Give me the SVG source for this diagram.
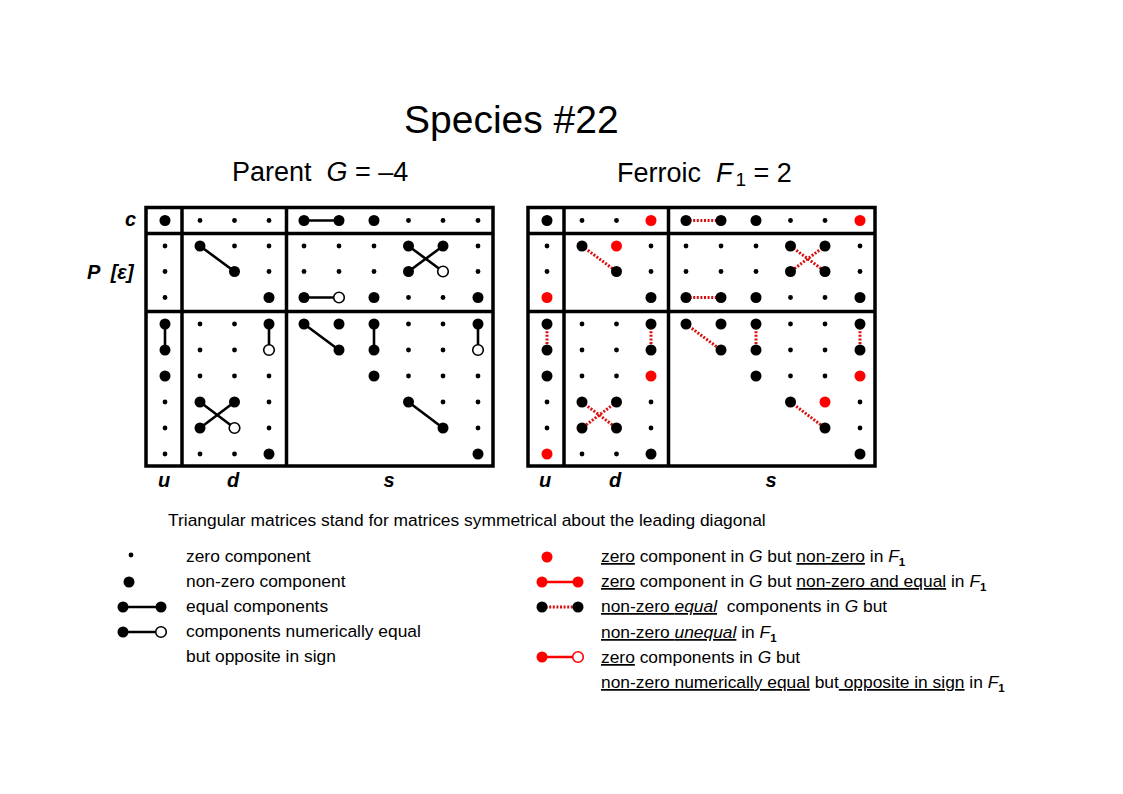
<svg xmlns="http://www.w3.org/2000/svg" width="1123" height="794" viewBox="0 0 1123 794">
<style>
text{font-family:"Liberation Sans",Arial,sans-serif;fill:#000}
.t1{font-size:39px}
.t2{font-size:27px}
.lab{font-size:20px;font-weight:bold;font-style:italic}
.cap{font-size:17.4px}
.lg{font-size:17.4px}
.it{font-style:italic}
.u{text-decoration:underline}
.sub{font-size:11.5px;font-weight:bold}
.frame{fill:none;stroke:#000;stroke-width:3.5}
.div{stroke:#000;stroke-width:3.5}
.ln{stroke:#000;stroke-width:2.6;fill:none}
.rl{stroke:#ff0000;stroke-width:2.6;fill:none}
.rd{stroke:#d81010;stroke-width:3;stroke-dasharray:2 1.6;fill:none}
</style>
<defs>
<circle id="S" r="2.4" fill="#000"/>
<circle id="B" r="5.5" fill="#000"/>
<circle id="R" r="5.5" fill="#ff0000"/>
<circle id="O" r="5.3" fill="#fff" stroke="#000" stroke-width="1.6"/>
<circle id="RO" r="5.3" fill="#fff" stroke="#ff0000" stroke-width="1.6"/>
</defs>
<rect width="1123" height="794" fill="#fff"/>

<g id="titles">
<text class="t1" x="404" y="133">Species #22</text>
<text class="t2" x="232" y="181" xml:space="preserve">Parent  <tspan class="it">G</tspan> = –4</text>
<text class="t2" x="617" y="182" xml:space="preserve">Ferroic  <tspan class="it">F</tspan><tspan font-size="19" dx="3" dy="4">1</tspan><tspan dy="-4"> = 2</tspan></text>
<text class="lab" x="125" y="226">c</text>
<text class="lab" x="87" y="279" xml:space="preserve">P  [ε]</text>
<text class="lab" x="164" y="487" text-anchor="middle">u</text>
<text class="lab" x="233" y="487" text-anchor="middle">d</text>
<text class="lab" x="389" y="487" text-anchor="middle">s</text>
<text class="lab" x="545" y="487" text-anchor="middle">u</text>
<text class="lab" x="615" y="487" text-anchor="middle">d</text>
<text class="lab" x="771" y="487" text-anchor="middle">s</text>
<text class="cap" x="168" y="526">Triangular matrices stand for matrices symmetrical about the leading diagonal</text>
</g>

<g id="parent-matrix">
<rect class="frame" x="146" y="207.5" width="347" height="258.5"/>
<line class="div" x1="182" y1="207.5" x2="182" y2="466"/>
<line class="div" x1="286.5" y1="207.5" x2="286.5" y2="466"/>
<line class="div" x1="146" y1="233.5" x2="493" y2="233.5"/>
<line class="div" x1="146" y1="311.5" x2="493" y2="311.5"/>
</g>
<g id="ferroic-matrix">
<rect class="frame" x="528" y="207.5" width="347" height="258.5"/>
<line class="div" x1="564" y1="207.5" x2="564" y2="466"/>
<line class="div" x1="668.5" y1="207.5" x2="668.5" y2="466"/>
<line class="div" x1="528" y1="233.5" x2="875" y2="233.5"/>
<line class="div" x1="528" y1="311.5" x2="875" y2="311.5"/>
</g>

<g id="connectors">
<line class="ln" x1="304" y1="220.5" x2="339" y2="220.5"/>
<line class="ln" x1="200" y1="246" x2="234.5" y2="271.5"/>
<line class="ln" x1="408.5" y1="246" x2="443" y2="271.5"/>
<line class="ln" x1="443" y1="246" x2="408.5" y2="271.5"/>
<line class="ln" x1="304" y1="297.5" x2="339" y2="297.5"/>
<line class="ln" x1="165" y1="324" x2="165" y2="350"/>
<line class="ln" x1="269" y1="324" x2="269" y2="350"/>
<line class="ln" x1="200" y1="402" x2="234.5" y2="428"/>
<line class="ln" x1="234.5" y1="402" x2="200" y2="428"/>
<line class="ln" x1="304" y1="324" x2="339" y2="350"/>
<line class="ln" x1="374" y1="324" x2="374" y2="350"/>
<line class="ln" x1="478" y1="324" x2="478" y2="350"/>
<line class="ln" x1="408.5" y1="402" x2="443" y2="428"/>

<line class="rd" x1="686" y1="220.5" x2="721" y2="220.5"/>
<line class="rd" x1="582" y1="246" x2="616.5" y2="271.5"/>
<line class="rd" x1="790.5" y1="246" x2="825" y2="271.5"/>
<line class="rd" x1="825" y1="246" x2="790.5" y2="271.5"/>
<line class="rd" x1="686" y1="297.5" x2="721" y2="297.5"/>
<line class="rd" x1="547" y1="324" x2="547" y2="350"/>
<line class="rd" x1="651" y1="324" x2="651" y2="350"/>
<line class="rd" x1="582" y1="402" x2="616.5" y2="428"/>
<line class="rd" x1="616.5" y1="402" x2="582" y2="428"/>
<line class="rd" x1="686" y1="324" x2="721" y2="350"/>
<line class="rd" x1="756" y1="324" x2="756" y2="350"/>
<line class="rd" x1="860" y1="324" x2="860" y2="350"/>
<line class="rd" x1="790.5" y1="402" x2="825" y2="428"/>

<line class="ln" x1="123" y1="607" x2="161" y2="607"/>
<line class="ln" x1="123" y1="632" x2="161" y2="632"/>
<line class="rl" x1="542" y1="582" x2="578" y2="582"/>
<line class="rd" x1="542" y1="607" x2="578" y2="607"/>
<line class="rl" x1="542" y1="657" x2="578" y2="657"/>
</g>

<g id="parent-dots">
<use href="#B" x="165" y="220.5"/><use href="#S" x="200" y="220.5"/><use href="#S" x="234.5" y="220.5"/><use href="#S" x="269" y="220.5"/><use href="#B" x="304" y="220.5"/><use href="#B" x="339" y="220.5"/><use href="#B" x="374" y="220.5"/><use href="#S" x="408.5" y="220.5"/><use href="#S" x="443" y="220.5"/><use href="#S" x="478" y="220.5"/>
<use href="#S" x="165" y="246"/><use href="#B" x="200" y="246"/><use href="#S" x="234.5" y="246"/><use href="#S" x="269" y="246"/><use href="#S" x="304" y="246"/><use href="#S" x="339" y="246"/><use href="#S" x="374" y="246"/><use href="#B" x="408.5" y="246"/><use href="#B" x="443" y="246"/><use href="#S" x="478" y="246"/>
<use href="#S" x="165" y="271.5"/><use href="#B" x="234.5" y="271.5"/><use href="#S" x="269" y="271.5"/><use href="#S" x="304" y="271.5"/><use href="#S" x="339" y="271.5"/><use href="#S" x="374" y="271.5"/><use href="#B" x="408.5" y="271.5"/><use href="#O" x="443" y="271.5"/><use href="#S" x="478" y="271.5"/>
<use href="#S" x="165" y="297.5"/><use href="#B" x="269" y="297.5"/><use href="#B" x="304" y="297.5"/><use href="#O" x="339" y="297.5"/><use href="#B" x="374" y="297.5"/><use href="#S" x="408.5" y="297.5"/><use href="#S" x="443" y="297.5"/><use href="#B" x="478" y="297.5"/>
<use href="#B" x="165" y="324"/><use href="#S" x="200" y="324"/><use href="#S" x="234.5" y="324"/><use href="#B" x="269" y="324"/><use href="#B" x="304" y="324"/><use href="#B" x="339" y="324"/><use href="#B" x="374" y="324"/><use href="#S" x="408.5" y="324"/><use href="#S" x="443" y="324"/><use href="#B" x="478" y="324"/>
<use href="#B" x="165" y="350"/><use href="#S" x="200" y="350"/><use href="#S" x="234.5" y="350"/><use href="#O" x="269" y="350"/><use href="#B" x="339" y="350"/><use href="#B" x="374" y="350"/><use href="#S" x="408.5" y="350"/><use href="#S" x="443" y="350"/><use href="#O" x="478" y="350"/>
<use href="#B" x="165" y="376"/><use href="#S" x="200" y="376"/><use href="#S" x="234.5" y="376"/><use href="#S" x="269" y="376"/><use href="#B" x="374" y="376"/><use href="#S" x="408.5" y="376"/><use href="#S" x="443" y="376"/><use href="#S" x="478" y="376"/>
<use href="#S" x="165" y="402"/><use href="#B" x="200" y="402"/><use href="#B" x="234.5" y="402"/><use href="#S" x="269" y="402"/><use href="#B" x="408.5" y="402"/><use href="#S" x="443" y="402"/><use href="#S" x="478" y="402"/>
<use href="#S" x="165" y="428"/><use href="#B" x="200" y="428"/><use href="#O" x="234.5" y="428"/><use href="#S" x="269" y="428"/><use href="#B" x="443" y="428"/><use href="#S" x="478" y="428"/>
<use href="#S" x="165" y="454"/><use href="#S" x="200" y="454"/><use href="#S" x="234.5" y="454"/><use href="#B" x="269" y="454"/><use href="#B" x="478" y="454"/>
</g>

<g id="ferroic-dots">
<use href="#B" x="547" y="220.5"/><use href="#S" x="582" y="220.5"/><use href="#S" x="616.5" y="220.5"/><use href="#R" x="651" y="220.5"/><use href="#B" x="686" y="220.5"/><use href="#B" x="721" y="220.5"/><use href="#B" x="756" y="220.5"/><use href="#S" x="790.5" y="220.5"/><use href="#S" x="825" y="220.5"/><use href="#R" x="860" y="220.5"/>
<use href="#S" x="547" y="246"/><use href="#B" x="582" y="246"/><use href="#R" x="616.5" y="246"/><use href="#S" x="651" y="246"/><use href="#S" x="686" y="246"/><use href="#S" x="721" y="246"/><use href="#S" x="756" y="246"/><use href="#B" x="790.5" y="246"/><use href="#B" x="825" y="246"/><use href="#S" x="860" y="246"/>
<use href="#S" x="547" y="271.5"/><use href="#B" x="616.5" y="271.5"/><use href="#S" x="651" y="271.5"/><use href="#S" x="686" y="271.5"/><use href="#S" x="721" y="271.5"/><use href="#S" x="756" y="271.5"/><use href="#B" x="790.5" y="271.5"/><use href="#B" x="825" y="271.5"/><use href="#S" x="860" y="271.5"/>
<use href="#R" x="547" y="297.5"/><use href="#B" x="651" y="297.5"/><use href="#B" x="686" y="297.5"/><use href="#B" x="721" y="297.5"/><use href="#B" x="756" y="297.5"/><use href="#S" x="790.5" y="297.5"/><use href="#S" x="825" y="297.5"/><use href="#B" x="860" y="297.5"/>
<use href="#B" x="547" y="324"/><use href="#S" x="582" y="324"/><use href="#S" x="616.5" y="324"/><use href="#B" x="651" y="324"/><use href="#B" x="686" y="324"/><use href="#B" x="721" y="324"/><use href="#B" x="756" y="324"/><use href="#S" x="790.5" y="324"/><use href="#S" x="825" y="324"/><use href="#B" x="860" y="324"/>
<use href="#B" x="547" y="350"/><use href="#S" x="582" y="350"/><use href="#S" x="616.5" y="350"/><use href="#B" x="651" y="350"/><use href="#B" x="721" y="350"/><use href="#B" x="756" y="350"/><use href="#S" x="790.5" y="350"/><use href="#S" x="825" y="350"/><use href="#B" x="860" y="350"/>
<use href="#B" x="547" y="376"/><use href="#S" x="582" y="376"/><use href="#S" x="616.5" y="376"/><use href="#R" x="651" y="376"/><use href="#B" x="756" y="376"/><use href="#S" x="790.5" y="376"/><use href="#S" x="825" y="376"/><use href="#R" x="860" y="376"/>
<use href="#S" x="547" y="402"/><use href="#B" x="582" y="402"/><use href="#B" x="616.5" y="402"/><use href="#S" x="651" y="402"/><use href="#B" x="790.5" y="402"/><use href="#R" x="825" y="402"/><use href="#S" x="860" y="402"/>
<use href="#S" x="547" y="428"/><use href="#B" x="582" y="428"/><use href="#B" x="616.5" y="428"/><use href="#S" x="651" y="428"/><use href="#B" x="825" y="428"/><use href="#S" x="860" y="428"/>
<use href="#R" x="547" y="454"/><use href="#S" x="582" y="454"/><use href="#S" x="616.5" y="454"/><use href="#B" x="651" y="454"/><use href="#B" x="860" y="454"/>
</g>

<g id="legend-left">
<use href="#S" x="131" y="555"/>
<text class="lg" x="186" y="562">zero component</text>
<use href="#B" x="129" y="582"/>
<text class="lg" x="186" y="587">non-zero component</text>
<use href="#B" x="123" y="607"/><use href="#B" x="161" y="607"/>
<text class="lg" x="186" y="612">equal components</text>
<use href="#B" x="123" y="632"/><use href="#O" x="161" y="632"/>
<text class="lg" x="186" y="637">components numerically equal</text>
<text class="lg" x="186" y="662">but opposite in sign</text>
</g>

<g id="legend-right">
<use href="#R" x="547" y="557"/>
<text class="lg" x="601" y="562"><tspan class="u">zero</tspan> component in <tspan class="it">G</tspan> but <tspan class="u">non-zero</tspan> in <tspan class="it">F</tspan><tspan class="sub" dy="4">1</tspan></text>
<use href="#R" x="542" y="582"/><use href="#R" x="578" y="582"/>
<text class="lg" x="601" y="587"><tspan class="u">zero</tspan> component in <tspan class="it">G</tspan> but <tspan class="u">non-zero and equal</tspan> in <tspan class="it">F</tspan><tspan class="sub" dy="4">1</tspan></text>
<use href="#B" x="542" y="607"/><use href="#B" x="578" y="607"/>
<text class="lg" x="601" y="612" xml:space="preserve"><tspan class="u">non-zero <tspan class="it">equal</tspan></tspan>  components in <tspan class="it">G</tspan> but</text>
<text class="lg" x="601" y="638"><tspan class="u">non-zero <tspan class="it">unequal</tspan></tspan> in <tspan class="it">F</tspan><tspan class="sub" dy="4">1</tspan></text>
<use href="#R" x="542" y="657"/><use href="#RO" x="578" y="657"/>
<text class="lg" x="601" y="663"><tspan class="u">zero</tspan> components in <tspan class="it">G</tspan> but</text>
<text class="lg" x="601" y="688" xml:space="preserve"><tspan class="u">non-zero numerically equal</tspan> but<tspan class="u"> opposite in sign</tspan> in <tspan class="it">F</tspan><tspan class="sub" dy="4">1</tspan></text>
</g>
</svg>
